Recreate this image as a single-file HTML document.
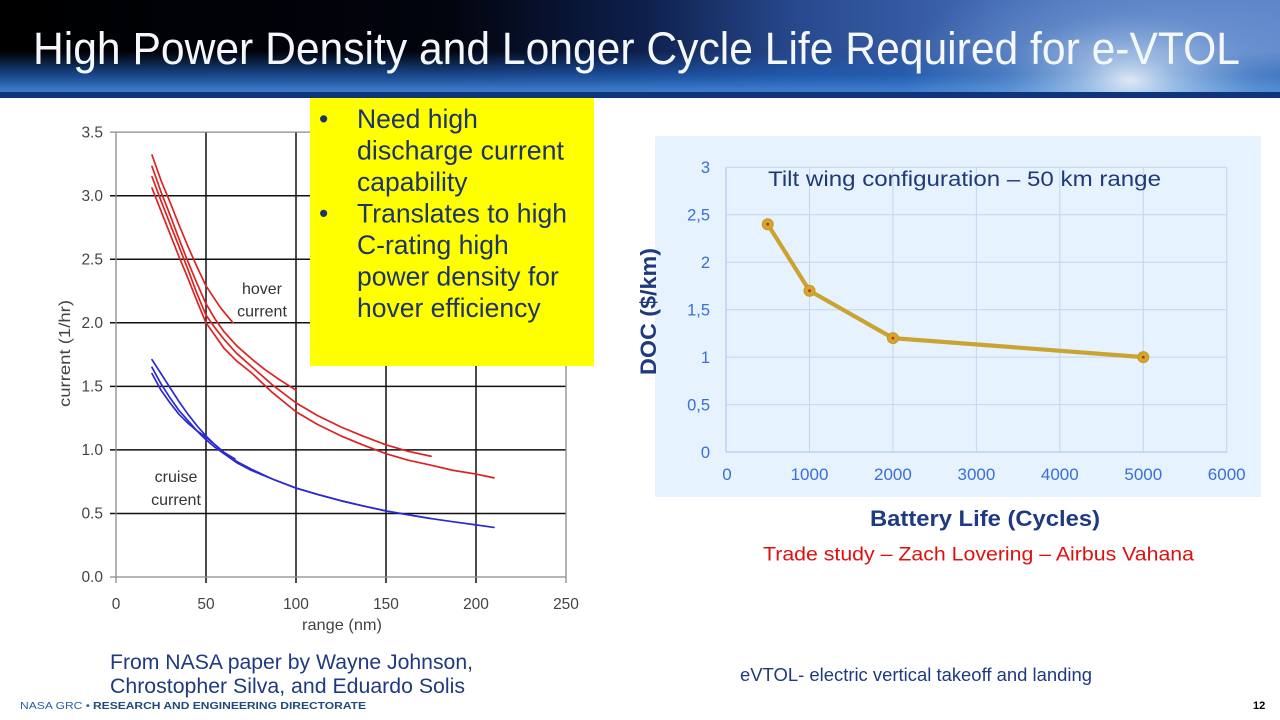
<!DOCTYPE html>
<html>
<head>
<meta charset="utf-8">
<style>
  html,body{margin:0;padding:0;background:#fff;}
  body{width:1280px;height:720px;overflow:hidden;}
  svg{display:block;}
</style>
</head>
<body>
<svg width="1280" height="720" viewBox="0 0 1280 720" xmlns="http://www.w3.org/2000/svg" font-family="'Liberation Sans', Arial, sans-serif">
  <defs>
    <linearGradient id="hx" x1="0" y1="0" x2="1" y2="0">
      <stop offset="0" stop-color="#000000"/>
      <stop offset="0.35" stop-color="#02040e"/>
      <stop offset="0.5" stop-color="#0d1f4a"/>
      <stop offset="0.62" stop-color="#27488d"/>
      <stop offset="0.78" stop-color="#4169b3"/>
      <stop offset="1" stop-color="#5a82c8"/>
    </linearGradient>
    <linearGradient id="hy" x1="0" y1="0" x2="0" y2="1">
      <stop offset="0" stop-color="#1c56ab" stop-opacity="0"/>
      <stop offset="0.55" stop-color="#1c56ab" stop-opacity="0"/>
      <stop offset="0.8" stop-color="#1f5cb2" stop-opacity="0.75"/>
      <stop offset="0.95" stop-color="#3a7bcb" stop-opacity="0.95"/>
      <stop offset="1" stop-color="#3a7bcb" stop-opacity="1"/>
    </linearGradient>
    <radialGradient id="hr" cx="0" cy="0" r="1" gradientUnits="userSpaceOnUse" gradientTransform="translate(1130,80) scale(230,120)">
      <stop offset="0" stop-color="#ffffff" stop-opacity="0.85"/>
      <stop offset="0.2" stop-color="#d8ecfb" stop-opacity="0.6"/>
      <stop offset="0.55" stop-color="#9cc3ec" stop-opacity="0.28"/>
      <stop offset="1" stop-color="#9cc3ec" stop-opacity="0"/>
    </radialGradient>
  </defs>

  <!-- Header -->
  <rect x="0" y="0" width="1280" height="98" fill="url(#hx)"/>
  <rect x="0" y="0" width="1280" height="93" fill="url(#hy)"/>
  <rect x="0" y="0" width="1280" height="93" fill="url(#hr)"/>
  <rect x="0" y="92" width="1280" height="6" fill="#0f3478"/>
  <text x="33" y="64" font-size="45" fill="#f4f8fc" textLength="1207" lengthAdjust="spacingAndGlyphs">High Power Density and Longer Cycle Life Required for e-VTOL</text>

  <!-- LEFT CHART -->
  <g>
    <g stroke="#111" stroke-width="1.5">
      <line x1="110" y1="195.7" x2="566" y2="195.7"/>
      <line x1="110" y1="259.25" x2="566" y2="259.25"/>
      <line x1="110" y1="322.8" x2="566" y2="322.8"/>
      <line x1="110" y1="386.35" x2="566" y2="386.35"/>
      <line x1="110" y1="449.9" x2="566" y2="449.9"/>
      <line x1="110" y1="513.45" x2="566" y2="513.45"/>
      <line x1="206" y1="132" x2="206" y2="583"/>
      <line x1="296" y1="132" x2="296" y2="583"/>
      <line x1="386" y1="132" x2="386" y2="583"/>
      <line x1="476" y1="132" x2="476" y2="583"/>
    </g>
    <g stroke="#8a8a8a" stroke-width="1.3">
      <line x1="110" y1="132.15" x2="566" y2="132.15"/>
      <line x1="110" y1="577" x2="566" y2="577"/>
      <line x1="116" y1="132" x2="116" y2="583"/>
      <line x1="566" y1="132" x2="566" y2="583"/>
    </g>
    <g transform="translate(116,577) scale(1.8,-127.1)" fill="none" stroke-linejoin="round" stroke-linecap="round">
      <g stroke="#dd2222" stroke-width="1.7">
        <polyline vector-effect="non-scaling-stroke" points="20,3.32 25,3.12 30,2.95 35,2.77 40,2.6 45,2.44 50,2.29 58,2.12 65,2.0"/>
        <polyline vector-effect="non-scaling-stroke" points="20,3.23 25,3.03 30,2.85 35,2.66 40,2.48 45,2.31 50,2.15 55,2.03 60,1.93 67,1.82 75,1.72 82,1.64 90,1.56 100,1.47"/>
        <polyline vector-effect="non-scaling-stroke" points="20,3.15 25,2.96 30,2.78 35,2.6 40,2.42 45,2.23 50,2.06 55,1.96 60,1.87 67,1.76 75,1.66 87,1.51 100,1.37 112,1.27 125,1.18 137,1.11 150,1.04 162,0.99 175,0.95"/>
        <polyline vector-effect="non-scaling-stroke" points="20,3.06 25,2.88 30,2.7 35,2.52 40,2.35 45,2.17 50,2.0 55,1.9 60,1.8 67,1.7 75,1.61 87,1.45 100,1.30 112,1.2 125,1.11 137,1.04 150,0.97 162,0.92 175,0.88 187,0.84 200,0.81 210,0.78"/>
      </g>
      <g stroke="#2a2ad0" stroke-width="1.7">
        <polyline vector-effect="non-scaling-stroke" points="20,1.71 25,1.6 30,1.49 35,1.38 40,1.28 45,1.19 50,1.11 55,1.04 60,0.98 67,0.91 75,0.85 87,0.77 100,0.70 112,0.65 125,0.60 137,0.56 150,0.52 162,0.49 175,0.46"/>
        <polyline vector-effect="non-scaling-stroke" points="20,1.65 25,1.52 30,1.41 35,1.31 40,1.23 45,1.15 50,1.08 55,1.02 60,0.97 67,0.9 75,0.84 87,0.77 100,0.70 112,0.65 125,0.60 137,0.56 150,0.52 162,0.49 175,0.46 187,0.435 200,0.41 210,0.39"/>
        <polyline vector-effect="non-scaling-stroke" points="20,1.60 25,1.47 30,1.37 35,1.28 40,1.21 45,1.15 50,1.10 55,1.04 60,0.98 66,0.93"/>
      </g>
    </g>
    <g font-size="15.5" fill="#444" text-anchor="end">
      <text x="103" y="137.5">3.5</text>
      <text x="103" y="201">3.0</text>
      <text x="103" y="264.5">2.5</text>
      <text x="103" y="328">2.0</text>
      <text x="103" y="391.5">1.5</text>
      <text x="103" y="455">1.0</text>
      <text x="103" y="518.5">0.5</text>
      <text x="103" y="582">0.0</text>
    </g>
    <g font-size="15.5" fill="#444" text-anchor="middle">
      <text x="116" y="609">0</text>
      <text x="206" y="609">50</text>
      <text x="296" y="609">100</text>
      <text x="386" y="609">150</text>
      <text x="476" y="609">200</text>
      <text x="566" y="609">250</text>
    </g>
    <text x="302" y="630" font-size="16" fill="#444" textLength="80" lengthAdjust="spacingAndGlyphs">range (nm)</text>
    <text transform="translate(70,407) rotate(-90)" font-size="16" fill="#444" textLength="107" lengthAdjust="spacingAndGlyphs">current (1/hr)</text>
    <g font-size="16" fill="#333" text-anchor="middle">
      <text x="262" y="294">hover</text>
      <text x="262" y="316.5">current</text>
      <text x="176" y="482">cruise</text>
      <text x="176" y="505">current</text>
    </g>
  </g>

  <!-- Yellow callout -->
  <rect x="310" y="98" width="284" height="268" fill="#ffff00"/>
  <g font-size="26.5" fill="#1c3468">
    <text x="319" y="128">•</text>
    <text x="357" y="128">Need high</text>
    <text x="357" y="159.5" textLength="207" lengthAdjust="spacingAndGlyphs">discharge current</text>
    <text x="357" y="191">capability</text>
    <text x="319" y="222.5">•</text>
    <text x="357" y="222.5" textLength="210" lengthAdjust="spacingAndGlyphs">Translates to high</text>
    <text x="357" y="254">C-rating high</text>
    <text x="357" y="285.5">power density for</text>
    <text x="357" y="317">hover efficiency</text>
  </g>

  <!-- RIGHT CHART -->
  <rect x="655" y="136" width="606" height="361" fill="#e6f2fd"/>
  <g stroke="#c1d6f0" stroke-width="1">
    <line x1="726" y1="167.3" x2="1226.7" y2="167.3"/>
    <line x1="726" y1="214.8" x2="1226.7" y2="214.8"/>
    <line x1="726" y1="262.2" x2="1226.7" y2="262.2"/>
    <line x1="726" y1="309.7" x2="1226.7" y2="309.7"/>
    <line x1="726" y1="357.1" x2="1226.7" y2="357.1"/>
    <line x1="726" y1="404.6" x2="1226.7" y2="404.6"/>
    <line x1="809.5" y1="167.3" x2="809.5" y2="452"/>
    <line x1="892.9" y1="167.3" x2="892.9" y2="452"/>
    <line x1="976.4" y1="167.3" x2="976.4" y2="452"/>
    <line x1="1059.8" y1="167.3" x2="1059.8" y2="452"/>
    <line x1="1143.3" y1="167.3" x2="1143.3" y2="452"/>
    <line x1="1226.7" y1="167.3" x2="1226.7" y2="452"/>
  </g>
  <g stroke="#b3cbea" stroke-width="1.2">
    <line x1="726" y1="167.3" x2="726" y2="452"/>
    <line x1="726" y1="452" x2="1226.7" y2="452"/>
  </g>
  <polyline points="767.7,224.2 809.5,290.7 892.9,338.1 1143.3,357.1" fill="none" stroke="#c9a430" stroke-width="4.2" stroke-linejoin="round"/>
  <g fill="#d1a82c" stroke="#c39a22" stroke-width="1">
    <circle cx="767.7" cy="224.2" r="5.5"/>
    <circle cx="809.5" cy="290.7" r="5.5"/>
    <circle cx="892.9" cy="338.1" r="5.5"/>
    <circle cx="1143.3" cy="357.1" r="5.5"/>
  </g>
  <g fill="#d8201a">
    <circle cx="767.7" cy="224.2" r="1.4"/>
    <circle cx="809.5" cy="290.7" r="1.4"/>
    <circle cx="892.9" cy="338.1" r="1.4"/>
    <circle cx="1143.3" cy="357.1" r="1.4"/>
  </g>
  <g font-size="16.5" fill="#3a6fd6" text-anchor="end">
    <text x="710" y="173">3</text>
    <text x="710" y="220.5">2,5</text>
    <text x="710" y="268">2</text>
    <text x="710" y="315.5">1,5</text>
    <text x="710" y="363">1</text>
    <text x="710" y="410.5">0,5</text>
    <text x="710" y="458">0</text>
  </g>
  <g font-size="17" fill="#3a6fd6" text-anchor="middle">
    <text x="727" y="480">0</text>
    <text x="809.5" y="480">1000</text>
    <text x="892.9" y="480">2000</text>
    <text x="976.4" y="480">3000</text>
    <text x="1059.8" y="480">4000</text>
    <text x="1143.3" y="480">5000</text>
    <text x="1226.7" y="480">6000</text>
  </g>
  <text x="768" y="186" font-size="21" fill="#1f3a78" textLength="393" lengthAdjust="spacingAndGlyphs">Tilt wing configuration – 50 km range</text>
  <text transform="translate(656,375) rotate(-90)" font-size="22" font-weight="bold" fill="#1f3a80" textLength="127" lengthAdjust="spacingAndGlyphs">DOC ($/km)</text>
  <text x="870" y="526" font-size="22" font-weight="bold" fill="#1f3a80" textLength="230" lengthAdjust="spacingAndGlyphs">Battery Life (Cycles)</text>
  <text x="763" y="560.5" font-size="19" fill="#e01010" textLength="431" lengthAdjust="spacingAndGlyphs">Trade study – Zach Lovering – Airbus Vahana</text>

  <!-- Bottom notes -->
  <text x="110" y="669" font-size="21" fill="#1f3a80" textLength="363" lengthAdjust="spacingAndGlyphs">From NASA paper by Wayne Johnson,</text>
  <text x="110" y="693" font-size="21" fill="#1f3a80" textLength="355" lengthAdjust="spacingAndGlyphs">Chrostopher Silva, and Eduardo Solis</text>
  <text x="740" y="681" font-size="18" fill="#1f3a80" textLength="352" lengthAdjust="spacingAndGlyphs">eVTOL- electric vertical takeoff and landing</text>

  <!-- Footer -->
  <text x="20" y="709" font-size="10" fill="#2a5ea8" textLength="70" lengthAdjust="spacingAndGlyphs">NASA GRC •</text>
  <text x="93" y="709" font-size="10" font-weight="bold" fill="#1f4a7a" textLength="273" lengthAdjust="spacingAndGlyphs">RESEARCH AND ENGINEERING DIRECTORATE</text>
  <text x="1253" y="709" font-size="11" font-weight="bold" fill="#000">12</text>
</svg>
</body>
</html>
